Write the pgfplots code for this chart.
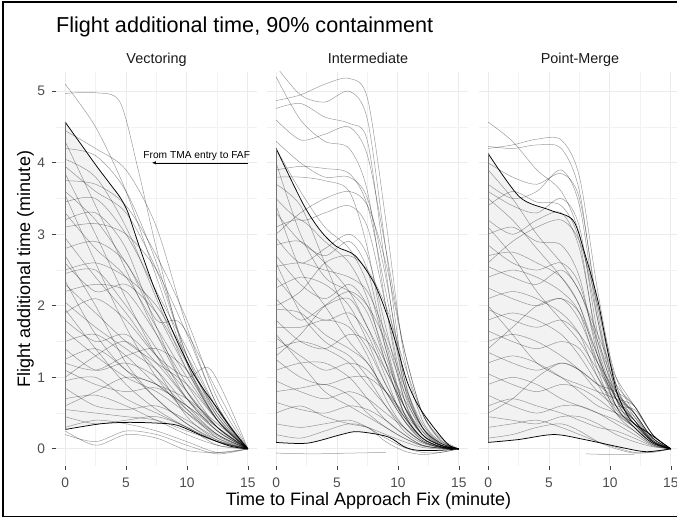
\documentclass[border=0pt]{standalone}
\usepackage{pgfplots}
\pgfplotsset{compat=1.18}
\usepgfplotslibrary{fillbetween}
\usetikzlibrary{arrows.meta}
\usepackage{fontspec}
\setmainfont{Liberation Sans}
\definecolor{gridc}{HTML}{EBEBEB}
\definecolor{gridm}{HTML}{F2F2F2}
\definecolor{tickl}{HTML}{4D4D4D}
\definecolor{bandc}{HTML}{F2F2F2}
\pgfplotsset{
 panel/.style={
   scale only axis, width=201pt, height=394pt, anchor=south west,
   xmin=-0.75, xmax=15.75, ymin=-0.24, ymax=5.27,
   axis line style={draw=none},
   xtick={0,5,10,15}, ytick={0,1,2,3,4,5},
   minor xtick={2.5,7.5,12.5}, minor ytick={0.5,1.5,2.5,3.5,4.5},
   grid=both, major grid style={draw=gridc, line width=1pt}, minor grid style={draw=gridm, line width=0.6pt},
   tick align=outside, major tick length=4.5pt, minor tick length=0pt,
   xtick pos=left, ytick pos=left,
   major tick style={draw=black!75, line width=0.7pt},
   /pgf/number format/assume math mode=true,
   tick label style={font=\fontsize{13.8}{16}\selectfont, text=tickl},
   xticklabel style={yshift=-4pt},
   yticklabel style={xshift=-3pt},
 },
 nopanely/.style={yticklabels={}, ytick style={draw=none}, every major y tick/.append style={draw=none}},
 gline/.style={black, opacity=0.38, line width=0.5pt, smooth},
 bline/.style={black, line width=0.75pt, smooth},
}
\begin{document}
\begin{tikzpicture}[x=1pt,y=1pt]
\draw[black, line width=1.5pt] (690,517) -- (3,517) -- (3,2.5) -- (690,2.5);
\node[anchor=base west, inner sep=0pt, font=\fontsize{21.6}{25}\selectfont] at (56,486) {Flight additional time, 90\% containment};
\node[anchor=base, inner sep=0pt, font=\fontsize{14.4}{17}\selectfont, text=black!90] at (156.5,455) {Vectoring};
\node[anchor=base, inner sep=0pt, font=\fontsize{14.4}{17}\selectfont, text=black!90] at (368,455) {Intermediate};
\node[anchor=base, inner sep=0pt, font=\fontsize{14.4}{17}\selectfont, text=black!90] at (580,455) {Point-Merge};
\node[anchor=base, inner sep=0pt, font=\fontsize{18}{21}\selectfont] at (368.5,13) {Time to Final Approach Fix (minute)};
\node[anchor=base, inner sep=0pt, rotate=90, font=\fontsize{18}{21}\selectfont] at (30,250) {Flight additional time (minute)};

% ---------------- Vectoring ----------------
\begin{axis}[panel, at={(56pt,53pt)}]
\addplot[name path=U1, draw=none, smooth] coordinates {(0,4.57)(1.3,4.26)(2.6,3.95)(3.8,3.68)(4.5,3.52)(5.1,3.33)(5.6,3.08)(6.15,2.8)(7.2,2.3)(8.3,1.85)(9.4,1.43)(10.5,1.06)(11.5,0.8)(12.4,0.59)(13.7,0.27)(15,0)};
\addplot[name path=L1, draw=none, smooth] coordinates {(0,0.27)(2.9,0.35)(5.1,0.37)(7.5,0.36)(9.2,0.33)(11.3,0.18)(13.5,0.04)(15,0)};
\addplot[bandc] fill between[of=U1 and L1];
\addplot[gline] coordinates {(0,5.10)(2.5,4.50)(5,3.60)(7.5,2.40)(10,1.20)(12.5,0.40)(15,0)};
\addplot[gline] coordinates {(0,4.97)(2.5,4.98)(4.5,4.85)(6,3.90)(7.5,2.80)(10,1.20)(12.5,0.40)(15,0)};
\addplot[gline] coordinates {(0,4.45)(2.5,4.20)(5,3.90)(7.5,3.10)(10,1.70)(12.5,0.60)(15,0)};
\addplot[gline] coordinates {(0,4.20)(2.5,4.10)(5,3.60)(7.5,2.60)(10,1.30)(12.5,0.45)(15,0)};
\addplot[gline] coordinates {(0,3.95)(2.5,3.60)(5,3.30)(7.5,2.50)(10,1.30)(12.5,0.50)(15,0)};
\addplot[gline] coordinates {(0,3.75)(2.5,3.70)(5,3.40)(7.5,2.70)(10,1.80)(12.5,0.70)(15,0)};
\addplot[gline] coordinates {(0,3.60)(2.5,3.20)(5,2.60)(7.5,1.90)(10,1.10)(12.5,0.40)(15,0)};
\addplot[gline] coordinates {(0,3.45)(2.5,3.50)(5,3.00)(7.5,2.20)(10,1.40)(12.5,0.55)(15,0)};
\addplot[gline] coordinates {(0,3.30)(2.5,2.80)(5,2.40)(7.5,1.70)(10,1.00)(12.5,0.40)(15,0)};
\addplot[gline] coordinates {(0,3.10)(2.5,3.15)(5,3.00)(7.5,2.50)(10,1.60)(12.5,0.60)(15,0)};
\addplot[gline] coordinates {(0,2.95)(2.5,2.40)(5,1.90)(7.5,1.30)(10,0.80)(12.5,0.30)(15,0)};
\addplot[gline] coordinates {(0,2.80)(2.5,2.90)(5,2.60)(7.5,1.80)(9.5,1.75)(12.5,0.80)(15,0)};
\addplot[gline] coordinates {(0,2.60)(2.5,2.20)(5,2.30)(7.5,1.90)(10,1.20)(12.5,0.50)(15,0)};
\addplot[gline] coordinates {(0,2.45)(2.5,2.50)(5,2.00)(7.5,1.40)(10,0.70)(12.5,0.25)(15,0)};
\addplot[gline] coordinates {(0,2.30)(2.5,1.90)(5,1.50)(7.5,1.20)(10,0.90)(12.5,0.40)(15,0)};
\addplot[gline] coordinates {(0,2.20)(2.5,2.30)(5,2.20)(7.5,1.60)(10,0.90)(12.5,0.30)(15,0)};
\addplot[gline] coordinates {(0,2.05)(2.5,1.70)(5,1.40)(7.5,1.10)(10,0.60)(12.5,0.20)(15,0)};
\addplot[gline] coordinates {(0,1.90)(2.5,2.10)(5,1.80)(7.5,1.30)(10,1.00)(12,1.10)(15,0)};
\addplot[gline] coordinates {(0,1.80)(2.5,1.50)(5,1.60)(7.5,1.20)(10,0.70)(12.5,0.30)(15,0)};
\addplot[gline] coordinates {(0,1.65)(2.5,1.30)(5,1.00)(7.5,0.80)(10,0.50)(12.5,0.20)(15,0)};
\addplot[gline] coordinates {(0,1.50)(2.5,1.60)(5,1.30)(7.5,0.90)(10,0.60)(12.5,0.30)(15,0)};
\addplot[gline] coordinates {(0,1.40)(2.5,1.10)(5,1.20)(7.5,1.00)(10,0.55)(12.5,0.15)(15,0)};
\addplot[gline] coordinates {(0,1.25)(2.5,1.40)(5,1.10)(7.5,0.70)(10,0.35)(12.5,0.10)(15,0)};
\addplot[gline] coordinates {(0,1.10)(2.5,0.90)(5,0.80)(7.5,0.85)(10,0.60)(12.5,0.25)(15,0)};
\addplot[gline] coordinates {(0,0.95)(2.5,1.00)(5,0.70)(7.5,0.50)(10,0.30)(12.5,0.10)(15,0)};
\addplot[gline] coordinates {(0,0.85)(2.5,0.60)(5,0.55)(7.5,0.60)(10,0.40)(12.5,0.15)(15,0)};
\addplot[gline] coordinates {(0,0.70)(2.5,0.75)(5,0.60)(7.5,0.40)(10,0.20)(12.5,0.05)(15,0)};
\addplot[gline] coordinates {(0,0.55)(2.5,0.50)(5,0.45)(7.5,0.40)(10,0.25)(12.5,0.10)(15,0)};
\addplot[gline] coordinates {(0,0.45)(2.5,0.35)(5,0.40)(7.5,0.45)(10,0.30)(12.5,0.05)(15,0)};
\addplot[gline] coordinates {(0,0.30)(2.5,0.40)(5,0.35)(7.5,0.25)(10,0.10)(12.5,-0.05)(15,0)};
\addplot[gline] coordinates {(0,0.20)(2.5,0.10)(5,0.25)(7.5,0.20)(10,0.05)(12.5,-0.07)(15,0)};
\addplot[gline] coordinates {(0,0.25)(2.5,0.05)(5,0.20)(7.5,0.15)(10,-0.02)(12.5,-0.05)(15,0)};
\addplot[gline] coordinates {(0,2.70)(2.5,2.00)(5,1.20)(7.5,0.70)(10,0.35)(12.5,0.12)(15,0)};
\addplot[gline] coordinates {(0,3.85)(2.5,3.00)(5,2.10)(7.5,1.30)(10,0.70)(12.5,0.25)(15,0)};
\addplot[gline] coordinates {(0,1.95)(2.5,1.40)(5,0.90)(7.5,0.55)(10,0.30)(12.5,0.10)(15,0)};
\addplot[gline] coordinates {(0,4.30)(2.5,3.40)(5,2.50)(7.5,1.60)(10,0.80)(12.5,0.30)(15,0)};
\addplot[gline] coordinates {(0,3.20)(2.5,3.30)(5,2.80)(7.5,1.70)(10,0.80)(12.5,0.30)(15,0)};
\addplot[gline] coordinates {(0,2.50)(2.5,2.60)(5,2.40)(7.5,2.00)(10,1.30)(12.5,0.55)(15,0)};
\addplot[gline] coordinates {(0,1.20)(2.5,1.10)(5,1.30)(7.5,1.40)(10,1.10)(12.5,0.45)(15,0)};
\addplot[gline] coordinates {(0,0.60)(2.5,0.80)(5,1.00)(7.5,0.90)(10,0.55)(12.5,0.20)(15,0)};
\addplot[gline] coordinates {(0,3.55)(2.5,2.60)(5,1.70)(7.5,1.00)(10,0.50)(12.5,0.18)(15,0)};
\addplot[gline] coordinates {(0,2.35)(2.5,1.60)(5,1.10)(7.5,0.90)(10,0.70)(12.5,0.35)(15,0)};
\addplot[gline] coordinates {(0,1.00)(2.5,1.30)(5,1.50)(7.5,1.10)(10,0.45)(12.5,0.12)(15,0)};
\addplot[gline] coordinates {(0,4.05)(2.5,3.80)(5,3.10)(7.5,2.10)(10,1.10)(12.5,0.40)(15,0)};
\addplot[bline] coordinates {(0,4.57)(1.3,4.26)(2.6,3.95)(3.8,3.68)(4.5,3.52)(5.1,3.33)(5.6,3.08)(6.15,2.8)(7.2,2.3)(8.3,1.85)(9.4,1.43)(10.5,1.06)(11.5,0.8)(12.4,0.59)(13.7,0.27)(15,0)};
\addplot[bline] coordinates {(0,0.27)(2.9,0.35)(5.1,0.37)(7.5,0.36)(9.2,0.33)(11.3,0.18)(13.5,0.04)(15,0)};
\addplot[black!55, line width=0.8pt] coordinates {(0,0.27)(0,4.57)};
\draw[line width=0.5pt, -{Latex[length=4pt,width=3.5pt]}] (axis cs:15,4.0) -- (axis cs:7.13,4.0);
\node[font=\fontsize{10.2}{12}\selectfont] at (axis cs:10.8,4.1) {From TMA entry to FAF};
\end{axis}

% ---------------- Intermediate ----------------
\begin{axis}[panel, nopanely, at={(267pt,53pt)}]
\addplot[name path=U2, draw=none, smooth] coordinates {(0,4.2)(2.2,3.43)(3.6,3.06)(4.95,2.83)(6.5,2.7)(8.07,2.31)(9.15,1.85)(10,1.38)(10.8,0.92)(11.9,0.54)(14,0.08)(15,0)};
\addplot[name path=L2, draw=none, smooth] coordinates {(0,0.09)(2.6,0.08)(5.35,0.2)(6.7,0.24)(9.15,0.17)(10.5,0.03)(11.6,-0.02)(13.5,-0.02)(15,0)};
\addplot[bandc] fill between[of=U2 and L2];
\addplot[gline] coordinates {(0,5.35)(2,4.95)(4,4.85)(6,5.00)(7.5,4.60)(9,2.80)(10.5,1.00)(12,0.30)(13.5,0.08)(15,0)};
\addplot[gline] coordinates {(0,4.87)(2,4.95)(4,5.10)(6,5.18)(7.5,4.90)(9,3.20)(10.5,1.30)(12,0.40)(13.5,0.10)(15,0)};
\addplot[gline] coordinates {(0,4.76)(2,4.83)(4,4.64)(6,4.55)(7.5,4.30)(9,2.50)(10.5,0.90)(12,0.30)(13.5,0.08)(15,0)};
\addplot[gline] coordinates {(0,4.60)(2,4.32)(4,4.40)(6,4.50)(7.5,4.10)(9,2.80)(10.5,1.40)(12,0.50)(13.5,0.15)(15,0)};
\addplot[gline] coordinates {(0,5.20)(2,4.60)(4,4.30)(6,4.20)(7.5,3.60)(9,2.00)(10.5,0.70)(12,0.20)(13.5,0.05)(15,0)};
\addplot[gline] coordinates {(0,3.90)(2,3.95)(4,3.92)(6,3.85)(7.5,3.40)(9,2.20)(10.5,0.90)(12,0.30)(13.5,0.08)(15,0)};
\addplot[gline] coordinates {(0,3.80)(2,3.80)(4,3.75)(6,3.60)(7.5,2.80)(9,1.50)(10.5,0.60)(12,0.20)(13.5,0.05)(15,0)};
\addplot[gline] coordinates {(0,4.20)(2,3.60)(4,3.10)(6,2.80)(7.5,2.30)(9,1.40)(10.5,0.60)(12,0.20)(13.5,0.05)(15,0)};
\addplot[gline] coordinates {(0,3.50)(2,3.20)(4,3.30)(6,3.40)(7.5,3.10)(9,2.00)(10.5,0.80)(12,0.25)(13.5,0.05)(15,0)};
\addplot[gline] coordinates {(0,3.30)(2,2.90)(4,2.70)(6,2.90)(7.5,2.50)(9,1.40)(10.5,0.50)(12,0.15)(13.5,0.04)(15,0)};
\addplot[gline] coordinates {(0,3.10)(2,3.20)(4,2.90)(6,2.60)(7.5,2.10)(9,1.20)(10.5,0.50)(12,0.15)(13.5,0.03)(15,0)};
\addplot[gline] coordinates {(0,2.95)(2,2.60)(4,2.80)(6,3.00)(7.5,2.70)(9,1.70)(10.5,0.70)(12,0.20)(13.5,0.05)(15,0)};
\addplot[gline] coordinates {(0,2.85)(2,2.90)(4,2.60)(6,2.20)(7.5,1.70)(9,1.10)(10.5,0.60)(12,0.25)(13.5,0.05)(15,0)};
\addplot[gline] coordinates {(0,2.70)(2,2.30)(4,2.10)(6,2.30)(7.5,2.00)(9,1.30)(10.5,0.60)(12,0.20)(13.5,0.05)(15,0)};
\addplot[gline] coordinates {(0,2.55)(2,2.60)(4,2.50)(6,2.40)(7.5,2.20)(9,1.60)(10.5,0.90)(12,0.35)(13.5,0.08)(15,0)};
\addplot[gline] coordinates {(0,2.40)(2,2.00)(4,1.80)(6,1.90)(7.5,1.60)(9,1.00)(10.5,0.40)(12,0.12)(13.5,0.03)(15,0)};
\addplot[gline] coordinates {(0,2.25)(2,2.40)(4,2.30)(6,2.00)(7.5,1.50)(9,0.90)(10.5,0.45)(12,0.15)(13.5,0.03)(15,0)};
\addplot[gline] coordinates {(0,2.10)(2,1.80)(4,2.00)(6,2.10)(7.5,1.70)(9,1.20)(10.5,0.70)(12,0.30)(13.5,0.08)(15,0)};
\addplot[gline] coordinates {(0,1.95)(2,1.90)(4,1.60)(6,1.40)(7.5,1.20)(9,0.80)(10.5,0.40)(12,0.15)(13.5,0.03)(15,0)};
\addplot[gline] coordinates {(0,1.80)(2,1.50)(4,1.40)(6,1.60)(7.5,1.50)(9,1.10)(10.5,0.60)(12,0.20)(13.5,0.05)(15,0)};
\addplot[gline] coordinates {(0,1.70)(2,1.70)(4,1.80)(6,1.70)(7.5,1.30)(9,0.70)(10.5,0.30)(12,0.10)(13.5,0.02)(15,0)};
\addplot[gline] coordinates {(0,1.55)(2,1.30)(4,1.10)(6,1.20)(7.5,1.10)(9,0.80)(10.5,0.45)(12,0.15)(13.5,0.03)(15,0)};
\addplot[gline] coordinates {(0,1.40)(2,1.50)(4,1.40)(6,1.20)(7.5,0.90)(9,0.60)(10.5,0.30)(12,0.10)(13.5,0.02)(15,0)};
\addplot[gline] coordinates {(0,1.25)(2,1.00)(4,0.90)(6,1.00)(7.5,1.00)(9,0.80)(10.5,0.50)(12,0.20)(13.5,0.05)(15,0)};
\addplot[gline] coordinates {(0,1.10)(2,1.20)(4,1.20)(6,1.00)(7.5,0.70)(9,0.40)(10.5,0.20)(12,0.05)(13.5,0.01)(15,0)};
\addplot[gline] coordinates {(0,0.95)(2,0.80)(4,0.70)(6,0.80)(7.5,0.70)(9,0.50)(10.5,0.30)(12,0.10)(13.5,0.02)(15,0)};
\addplot[gline] coordinates {(0,0.80)(2,0.85)(4,0.90)(6,0.75)(7.5,0.50)(9,0.30)(10.5,0.15)(12,0.05)(13.5,0.01)(15,0)};
\addplot[gline] coordinates {(0,0.65)(2,0.55)(4,0.50)(6,0.60)(7.5,0.55)(9,0.40)(10.5,0.20)(12,0.05)(13.5,0.01)(15,0)};
\addplot[gline] coordinates {(0,0.50)(2,0.60)(4,0.45)(6,0.35)(7.5,0.30)(9,0.20)(10.5,0.10)(12,0.02)(13.5,0.00)(15,0)};
\addplot[gline] coordinates {(0,0.35)(2,0.30)(4,0.35)(6,0.40)(7.5,0.30)(9,0.15)(10.5,0.02)(12,-0.05)(13.5,-0.05)(15,0)};
\addplot[gline] coordinates {(0,0.20)(2,0.15)(4,0.25)(6,0.35)(7.5,0.30)(9,0.10)(10.5,-0.03)(12,-0.08)(13.5,-0.05)(15,0)};
\addplot[gline] coordinates {(0,-0.06)(3,-0.07)(6,-0.06)(9,-0.05)};
\addplot[gline] coordinates {(0,4.00)(2,3.00)(4,2.40)(6,2.20)(7.5,1.90)(9,1.20)(10.5,0.50)(12,0.15)(13.5,0.03)(15,0)};
\addplot[gline] coordinates {(0,3.70)(2,3.40)(4,2.60)(6,1.80)(7.5,1.40)(9,0.90)(10.5,0.45)(12,0.15)(13.5,0.03)(15,0)};
\addplot[gline] coordinates {(0,3.40)(2,2.50)(4,2.00)(6,1.50)(7.5,1.20)(9,0.80)(10.5,0.40)(12,0.12)(13.5,0.02)(15,0)};
\addplot[gline] coordinates {(0,2.00)(2,2.20)(4,2.60)(6,2.70)(7.5,2.50)(9,2.00)(10.5,1.20)(12,0.50)(13.5,0.12)(15,0)};
\addplot[gline] coordinates {(0,1.30)(2,1.60)(4,2.00)(6,2.20)(7.5,2.00)(9,1.50)(10.5,0.80)(12,0.30)(13.5,0.06)(15,0)};
\addplot[gline] coordinates {(0,3.00)(2,3.30)(4,3.50)(6,3.60)(7.5,3.40)(9,2.60)(10.5,1.40)(12,0.50)(13.5,0.12)(15,0)};
\addplot[gline] coordinates {(0,4.30)(2,4.00)(4,3.80)(6,3.80)(7.5,3.50)(9,2.40)(10.5,1.00)(12,0.30)(13.5,0.06)(15,0)};
\addplot[gline] coordinates {(0,2.60)(2,1.90)(4,1.50)(6,1.30)(7.5,1.00)(9,0.60)(10.5,0.25)(12,0.08)(13.5,0.02)(15,0)};
\addplot[gline] coordinates {(0,1.60)(2,1.20)(4,0.80)(6,0.60)(7.5,0.45)(9,0.30)(10.5,0.15)(12,0.04)(13.5,0.01)(15,0)};
\addplot[bline] coordinates {(0,4.2)(2.2,3.43)(3.6,3.06)(4.95,2.83)(6.5,2.7)(8.07,2.31)(9.15,1.85)(10,1.38)(10.8,0.92)(11.9,0.54)(14,0.08)(15,0)};
\addplot[bline] coordinates {(0,0.09)(2.6,0.08)(5.35,0.2)(6.7,0.24)(9.15,0.17)(10.5,0.03)(11.6,-0.02)(13.5,-0.02)(15,0)};
\addplot[black!55, line width=0.8pt] coordinates {(0,0.09)(0,4.2)};
\end{axis}

% ---------------- Point-Merge ----------------
\begin{axis}[panel, nopanely, at={(479pt,53pt)}]
\addplot[name path=U3, draw=none, smooth] coordinates {(0,4.13)(2.6,3.52)(5.05,3.34)(6.95,3.2)(7.9,2.75)(9,2.08)(9.8,1.38)(10.6,0.78)(11.7,0.4)(13,0.24)(15,0)};
\addplot[name path=L3, draw=none, smooth] coordinates {(0,0.09)(2.5,0.13)(5.4,0.2)(7.9,0.13)(11.2,0.01)(13,-0.04)(15,0)};
\addplot[bandc] fill between[of=U3 and L3];
\addplot[gline] coordinates {(0,4.57)(2,4.30)(4,3.90)(6,3.60)(7.5,3.00)(9,1.80)(10.5,0.80)(12,0.40)(13.5,0.12)(15,0)};
\addplot[gline] coordinates {(0,4.20)(2,4.25)(4,4.33)(6,4.32)(7.5,3.80)(9,2.20)(10.5,0.90)(12,0.40)(13.5,0.10)(15,0)};
\addplot[gline] coordinates {(0,4.23)(2,4.20)(4,4.25)(6,4.20)(7.5,3.60)(9,1.90)(10.5,0.80)(12,0.35)(13.5,0.10)(15,0)};
\addplot[gline] coordinates {(0,4.00)(2,3.80)(4,3.70)(6,3.85)(7.5,3.50)(9,2.00)(10.5,0.90)(12,0.45)(13.5,0.12)(15,0)};
\addplot[gline] coordinates {(0,3.70)(2,3.50)(4,3.60)(6,3.90)(7.5,3.40)(9,1.80)(10.5,0.70)(12,0.35)(13.5,0.10)(15,0)};
\addplot[gline] coordinates {(0,3.60)(2,3.40)(4,3.30)(6,3.50)(7.5,3.10)(9,1.60)(10.5,0.70)(12,0.30)(13.5,0.08)(15,0)};
\addplot[gline] coordinates {(0,3.40)(2,3.60)(4,3.45)(6,3.40)(7.5,2.90)(9,1.40)(10.5,0.60)(12,0.30)(13.5,0.08)(15,0)};
\addplot[gline] coordinates {(0,3.20)(2,3.00)(4,3.20)(6,3.30)(7.5,2.80)(9,1.50)(10.5,0.80)(12,0.50)(13.5,0.15)(15,0)};
\addplot[gline] coordinates {(0,3.00)(2,3.10)(4,2.90)(6,2.85)(7.5,2.40)(9,1.30)(10.5,0.60)(12,0.30)(13.5,0.08)(15,0)};
\addplot[gline] coordinates {(0,2.85)(2,2.60)(4,2.50)(6,2.60)(7.5,2.30)(9,1.40)(10.5,0.70)(12,0.40)(13.5,0.10)(15,0)};
\addplot[gline] coordinates {(0,2.70)(2,2.75)(4,2.60)(6,2.40)(7.5,2.00)(9,1.20)(10.5,0.60)(12,0.30)(13.5,0.08)(15,0)};
\addplot[gline] coordinates {(0,2.55)(2,2.40)(4,2.30)(6,2.50)(7.5,2.20)(9,1.50)(10.5,0.90)(12,0.60)(13.5,0.20)(15,0)};
\addplot[gline] coordinates {(0,2.40)(2,2.50)(4,2.40)(6,2.20)(7.5,1.90)(9,1.10)(10.5,0.50)(12,0.25)(13.5,0.06)(15,0)};
\addplot[gline] coordinates {(0,2.25)(2,2.10)(4,2.00)(6,2.10)(7.5,1.80)(9,1.20)(10.5,0.70)(12,0.45)(13.5,0.15)(15,0)};
\addplot[gline] coordinates {(0,2.10)(2,2.20)(4,2.10)(6,1.90)(7.5,1.60)(9,1.00)(10.5,0.55)(12,0.35)(13.5,0.10)(15,0)};
\addplot[gline] coordinates {(0,1.95)(2,1.80)(4,1.70)(6,1.80)(7.5,1.60)(9,1.20)(10.5,0.80)(12,0.50)(13.5,0.15)(15,0)};
\addplot[gline] coordinates {(0,1.80)(2,1.90)(4,1.80)(6,1.60)(7.5,1.30)(9,0.90)(10.5,0.50)(12,0.30)(13.5,0.08)(15,0)};
\addplot[gline] coordinates {(0,1.65)(2,1.50)(4,1.40)(6,1.50)(7.5,1.40)(9,1.00)(10.5,0.60)(12,0.40)(13.5,0.12)(15,0)};
\addplot[gline] coordinates {(0,1.50)(2,1.60)(4,1.50)(6,1.30)(7.5,1.10)(9,0.80)(10.5,0.60)(12,0.55)(13.5,0.20)(15,0)};
\addplot[gline] coordinates {(0,1.35)(2,1.20)(4,1.10)(6,1.20)(7.5,1.10)(9,0.90)(10.5,0.70)(12,0.50)(13.5,0.15)(15,0)};
\addplot[gline] coordinates {(0,1.20)(2,1.30)(4,1.20)(6,1.00)(7.5,0.80)(9,0.60)(10.5,0.50)(12,0.35)(13.5,0.10)(15,0)};
\addplot[gline] coordinates {(0,1.05)(2,0.90)(4,0.80)(6,0.90)(7.5,0.85)(9,0.70)(10.5,0.50)(12,0.30)(13.5,0.08)(15,0)};
\addplot[gline] coordinates {(0,0.90)(2,1.00)(4,0.90)(6,0.70)(7.5,0.60)(9,0.50)(10.5,0.40)(12,0.25)(13.5,0.06)(15,0)};
\addplot[gline] coordinates {(0,0.75)(2,0.60)(4,0.50)(6,0.60)(7.5,0.60)(9,0.50)(10.5,0.35)(12,0.20)(13.5,0.05)(15,0)};
\addplot[gline] coordinates {(0,0.60)(2,0.70)(4,0.60)(6,0.50)(7.5,0.40)(9,0.30)(10.5,0.25)(12,0.15)(13.5,0.04)(15,0)};
\addplot[gline] coordinates {(0,0.45)(2,0.40)(4,0.35)(6,0.45)(7.5,0.45)(9,0.35)(10.5,0.20)(12,0.10)(13.5,0.03)(15,0)};
\addplot[gline] coordinates {(0,0.30)(2,0.35)(4,0.40)(6,0.30)(7.5,0.20)(9,0.10)(10.5,0.02)(12,-0.05)(13.5,-0.05)(15,0)};
\addplot[gline] coordinates {(0,0.15)(2,0.20)(4,0.30)(6,0.35)(7.5,0.25)(9,0.10)(10.5,0.00)(12,-0.06)(13.5,-0.04)(15,0)};
\addplot[gline] coordinates {(0,3.90)(2,3.50)(4,3.00)(6,2.60)(7.5,2.20)(9,1.60)(10.5,1.00)(12,0.60)(13.5,0.20)(15,0)};
\addplot[gline] coordinates {(0,3.10)(2,2.70)(4,2.20)(6,1.80)(7.5,1.50)(9,1.10)(10.5,0.75)(12,0.50)(13.5,0.15)(15,0)};
\addplot[gline] coordinates {(0,2.00)(2,1.60)(4,1.20)(6,1.00)(7.5,0.90)(9,0.80)(10.5,0.70)(12,0.60)(13.5,0.20)(15,0)};
\addplot[gline] coordinates {(0,2.60)(2,2.90)(4,3.10)(6,3.20)(7.5,2.90)(9,2.00)(10.5,1.00)(12,0.50)(13.5,0.12)(15,0)};
\addplot[gline] coordinates {(0,1.40)(2,1.70)(4,2.00)(6,2.10)(7.5,1.90)(9,1.30)(10.5,0.70)(12,0.40)(13.5,0.10)(15,0)};
\addplot[gline] coordinates {(0,0.50)(2,0.70)(4,1.00)(6,1.20)(7.5,1.10)(9,0.90)(10.5,0.80)(12,0.60)(13.5,0.20)(15,0)};
\addplot[gline] coordinates {(0,3.50)(2,3.20)(4,2.80)(6,2.40)(7.5,2.00)(9,1.30)(10.5,0.70)(12,0.40)(13.5,0.10)(15,0)};
\addplot[gline] coordinates {(8,-0.07)(10,-0.08)(12,-0.08)};
\addplot[bline] coordinates {(0,4.13)(2.6,3.52)(5.05,3.34)(6.95,3.2)(7.9,2.75)(9,2.08)(9.8,1.38)(10.6,0.78)(11.7,0.4)(13,0.24)(15,0)};
\addplot[bline] coordinates {(0,0.09)(2.5,0.13)(5.4,0.2)(7.9,0.13)(11.2,0.01)(13,-0.04)(15,0)};
\addplot[black!55, line width=0.8pt] coordinates {(0,0.09)(0,4.13)};
\end{axis}
\pgfresetboundingbox
\useasboundingbox (0,0) rectangle (677,519);
\end{tikzpicture}
\end{document}
